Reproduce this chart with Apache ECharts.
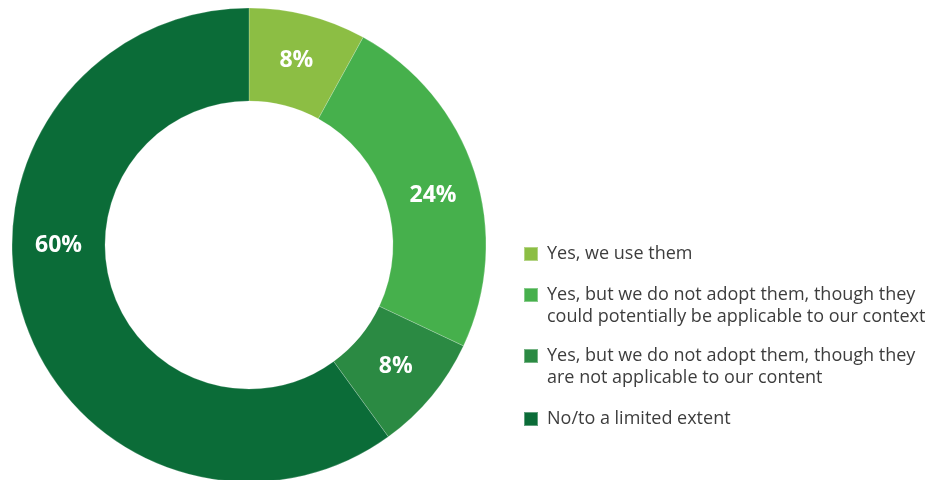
<!DOCTYPE html>
<html>
<head>
<meta charset="utf-8">
<script src="https://cdn.jsdelivr.net/npm/echarts@6/dist/echarts.min.js"></script>
<style>
  html, body { margin: 0; padding: 0; background: #fff; }
  #chart { width: 941px; height: 480px; }
</style>
</head>
<body>
<div id="chart"></div>
<script>
  // answers, clockwise from 12 o'clock
  var categories = [
    'Yes, we use them',
    'Yes, but we do not adopt them, though they\ncould potentially be applicable to our context',
    'Yes, but we do not adopt them, though they\nare not applicable to our content',
    'No/to a limited extent'
  ];
  var shares = [8, 24, 8, 60];
  var colors = ['#8cbe44', '#46b04c', '#2b8a43', '#0b6c38'];
  // where the source puts each value label (degrees clockwise from top)
  var labelAngles = [14.4, 75, 129.6, 270];

  var cx = 249, cy = 245, r0 = 144, r1 = 237;
  var chart = echarts.init(document.getElementById('chart'));

  var lineH = 22;
  // icon centre y of each legend row
  var legendY = [254, 295, 356, 419];
  var legends = categories.map(function (name, i) {
    var twoLines = name.indexOf('\n') >= 0;
    return {
      left: 523,
      top: legendY[i] - (twoLines ? 1.5 * lineH : lineH / 2),
      padding: 0,
      selectedMode: false,
      icon: 'rect',
      itemWidth: 14,
      itemHeight: 14,
      data: [name],
      // leading blank line keeps the icon level with the first line
      formatter: function (n) { return twoLines ? '\n' + n : n; },
      textStyle: {
        fontFamily: '"Open Sans", sans-serif',
        fontSize: 18,
        lineHeight: lineH,
        color: '#3d3d3d',
        padding: [0, 0, 0, 4]
      }
    };
  });

  chart.setOption({
    animation: false,
    color: colors,
    legend: legends,
    series: [{
      type: 'pie',
      center: [cx, cy],
      radius: [r0, r1],
      startAngle: 90,
      clockwise: true,
      silent: true,
      itemStyle: { borderColor: 'rgba(255,255,255,0.35)', borderWidth: 0.6 },
      label: {
        show: true,
        position: 'inside',
        formatter: '{c}%',
        color: '#fff',
        fontFamily: '"Open Sans", sans-serif',
        fontWeight: 'bold',
        fontSize: 23
      },
      labelLayout: function (p) {
        var a = labelAngles[p.dataIndex] * Math.PI / 180;
        var r = (r0 + r1) / 2;
        return { x: cx + r * Math.sin(a), y: cy - r * Math.cos(a) };
      },
      labelLine: { show: false },
      data: categories.map(function (name, i) {
        return { name: name, value: shares[i] };
      })
    }]
  });
</script>
</body>
</html>
